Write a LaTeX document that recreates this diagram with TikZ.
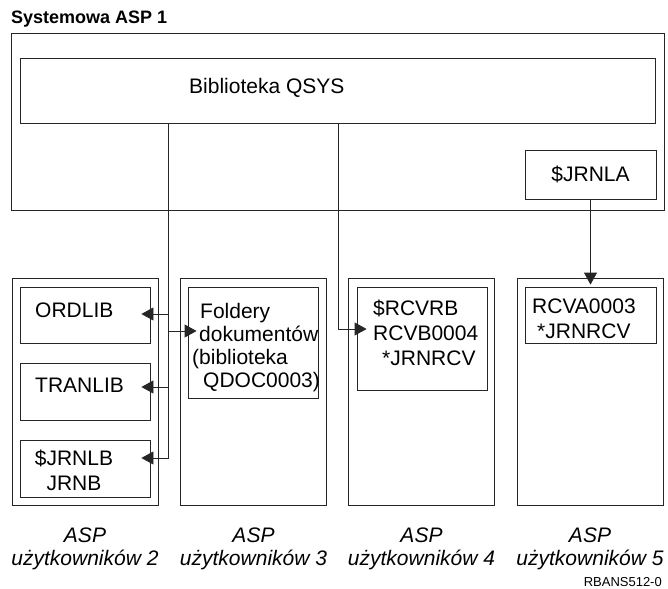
\documentclass[tikz,border=0pt]{standalone}
\usepackage{fontspec}
\setmainfont{Liberation Sans}
\usetikzlibrary{arrows.meta}
\begin{document}
\begin{tikzpicture}[x=1pt,y=-1pt,
  box/.style={shape=rectangle,draw=black!85,line width=0.8pt,inner sep=0pt},
  txt/.style={inner sep=0pt,font=\fontsize{21}{25}\selectfont},
  asplabel/.style={inner sep=0pt,align=center,font=\itshape\fontsize{21}{23}\selectfont},
  wire/.style={draw=black!85,line width=0.8pt},
  ptr/.style={wire,-{Triangle[length=12pt,width=13pt]}}]
\useasboundingbox (0,0) rectangle (668,588);
% systemowa ASP
\node[anchor=base west,inner sep=0pt,font=\bfseries\fontsize{18}{20}\selectfont] (title) at (11,24) {Systemowa ASP 1};
\node[box,minimum width=653,minimum height=177] (sys) at (337.5,121.5) {};
\node[box,minimum width=635,minimum height=65] (qsys) at (337.5,90.5) {};
\node[txt,anchor=base west] (qsysT) at (189,94) {Biblioteka QSYS};
\node[box,txt,minimum width=131,minimum height=49] (jrnla) at (590.5,174.5) {\$JRNLA};
% ASP uzytkownikow
\node[box,minimum width=146,minimum height=227] (asp2) at (85,391.5) {};
\node[box,minimum width=146,minimum height=227] (asp3) at (253.5,391.5) {};
\node[box,minimum width=146,minimum height=227] (asp4) at (421.5,391.5) {};
\node[box,minimum width=146,minimum height=227] (asp5) at (590,391.5) {};
\node[box,minimum width=130,minimum height=56] (ordlib) at (85,315) {};
\node[box,minimum width=130,minimum height=57] (tranlib) at (85,391.5) {};
\node[box,minimum width=130,minimum height=57] (jrnlb) at (85,468.5) {};
\node[box,minimum width=130,minimum height=111] (docs) at (253,342.5) {};
\node[box,minimum width=130,minimum height=103] (rcvb) at (422,338.5) {};
\node[box,minimum width=131,minimum height=56] (rcva) at (590.5,315) {};
\node[txt,anchor=base west] (ordlibT) at (35,317) {ORDLIB};
\node[txt,anchor=base west] (tranlibT) at (35,392) {TRANLIB};
\node[txt,align=center,anchor=base] (jrnlbT) at (74,490) {\$JRNLB\\JRNB};
\node[txt,align=left,anchor=base west,font=\fontsize{21}{23}\selectfont] (docsT) at (192,387) {\hspace*{8pt}Foldery\\\hspace*{7pt}dokumentów\\(biblioteka\\\hspace*{11pt}QDOC0003)};
\node[txt,align=left,anchor=base west] (rcvbT) at (373,365) {\$RCVRB\\RCVB0004\\\hspace*{9pt}*JRNRCV};
\node[txt,align=left,anchor=base west] (rcvaT) at (532,338) {RCVA0003\\\hspace*{5pt}*JRNRCV};
% polaczenia
\coordinate (tapO) at (168,314);
\coordinate (tapD) at (168,331);
\coordinate (tapT) at (168,387);
\coordinate (tapJ) at (168,458);
\coordinate (tapB) at (338,329);
\draw[ptr,shorten >=-9pt] (qsys.south -| tapJ) -- (tapJ) -- (tapJ -| jrnlb.east);
\path (tapO) edge[ptr,shorten >=-9pt] (tapO -| ordlib.east);
\path (tapD) edge[ptr,shorten >=-9pt] (tapD -| docs.west);
\path (tapT) edge[ptr,shorten >=-9pt] (tapT -| tranlib.east);
\draw[ptr,shorten >=-10pt] (qsys.south -| tapB) -- (tapB) -- (tapB -| rcvb.west);
\path (jrnla.south) edge[ptr,shorten >=2pt] (rcva.north);
% podpisy
\node[asplabel,anchor=base] (asp2L) at (85,565) {ASP\\użytkowników 2};
\node[asplabel,anchor=base] (asp3L) at (253.5,565) {ASP\\użytkowników 3};
\node[asplabel,anchor=base] (asp4L) at (421.5,565) {ASP\\użytkowników 4};
\node[asplabel,anchor=base] (asp5L) at (590,565) {ASP\\użytkowników 5};
\node[anchor=base east,inner sep=0pt,font=\fontsize{13}{15}\selectfont] (figid) at (662,586) {RBANS512-0};
\end{tikzpicture}
\end{document}
